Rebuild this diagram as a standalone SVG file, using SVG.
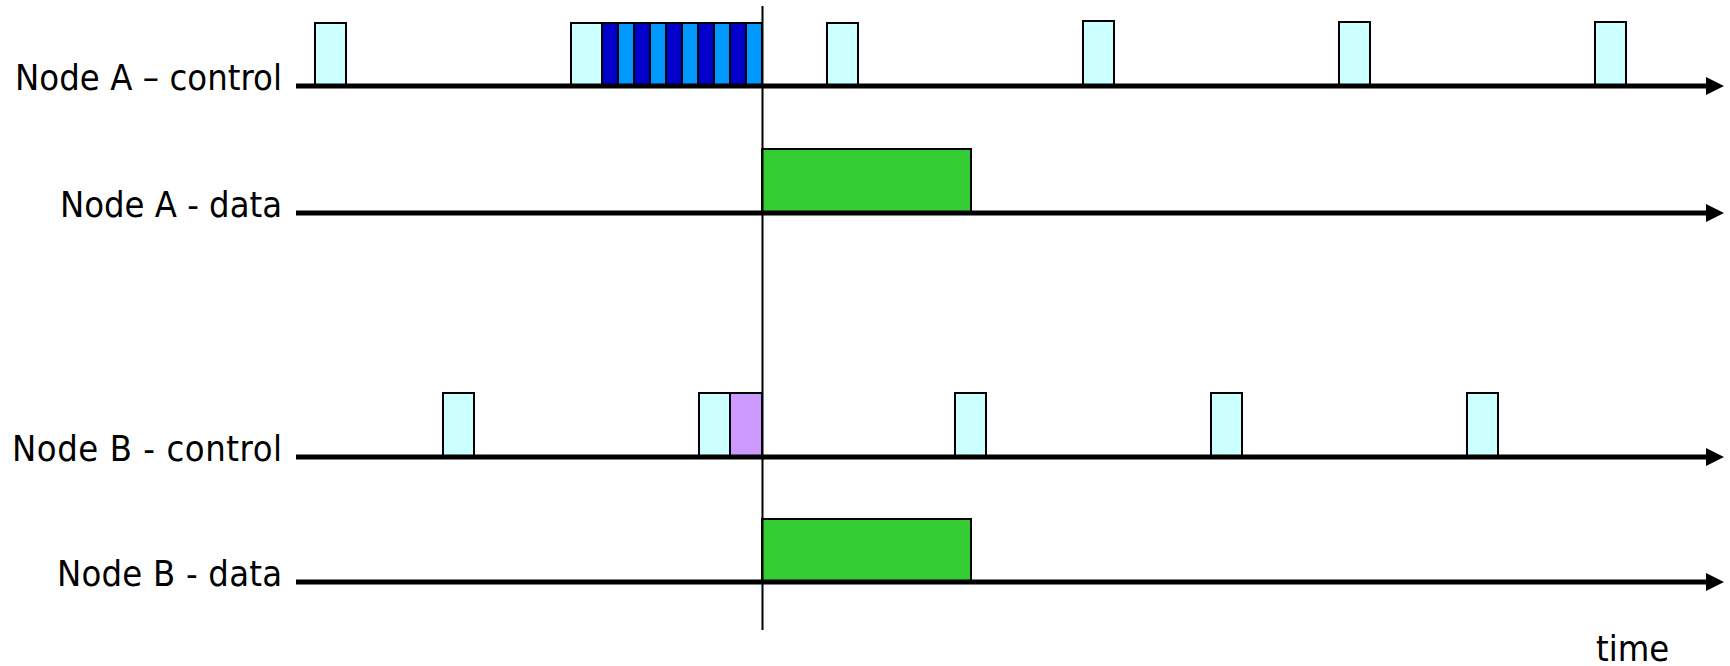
<svg xmlns="http://www.w3.org/2000/svg" width="1730" height="666" viewBox="0 0 1730 666">
<defs>
<style>
.lbl{font-family:"DejaVu Sans Condensed","DejaVu Sans",sans-serif;font-stretch:condensed;font-size:36px;fill:#000}
.box{stroke:#000;stroke-width:2}
.ctl{fill:#CCFFFF}
.dk{fill:#0000CC}
.lt{fill:#0099FF}
.pur{fill:#CC99FF}
.grn{fill:#33CC33}
.axis{stroke:#000;stroke-width:5;fill:none}
</style>
<marker id="ah" markerUnits="userSpaceOnUse" markerWidth="18" markerHeight="18" refX="0" refY="9" orient="auto" viewBox="0 0 18 18">
<path d="M0,0 L18,9 L0,18 Z" fill="#000"/>
</marker>
</defs>
<rect width="1730" height="666" fill="#fff"/>
<g id="labels">
<text class="lbl" x="282" y="90" text-anchor="end" textLength="267" lengthAdjust="spacing">Node A – control</text>
<text class="lbl" x="282" y="217" text-anchor="end" textLength="222" lengthAdjust="spacing">Node A - data</text>
<text class="lbl" x="282" y="461" text-anchor="end" textLength="270" lengthAdjust="spacing">Node B - control</text>
<text class="lbl" x="282" y="586" text-anchor="end" textLength="225" lengthAdjust="spacing">Node B - data</text>
<text class="lbl" x="1596" y="661">time</text>
</g>
<g id="nodeA-control">
<rect class="box ctl" x="315" y="23" width="31" height="63"/>
<rect class="box ctl" x="571" y="23" width="31" height="63"/>
<rect class="box dk" x="602" y="23" width="16" height="63"/>
<rect class="box lt" x="618" y="23" width="16" height="63"/>
<rect class="box dk" x="634" y="23" width="16" height="63"/>
<rect class="box lt" x="650" y="23" width="16" height="63"/>
<rect class="box dk" x="666" y="23" width="16" height="63"/>
<rect class="box lt" x="682" y="23" width="16" height="63"/>
<rect class="box dk" x="698" y="23" width="16" height="63"/>
<rect class="box lt" x="714" y="23" width="16" height="63"/>
<rect class="box dk" x="730" y="23" width="16" height="63"/>
<rect class="box lt" x="746" y="23" width="16" height="63"/>
<rect class="box ctl" x="827" y="23" width="31" height="63"/>
<rect class="box ctl" x="1083" y="21" width="31" height="65"/>
<rect class="box ctl" x="1339" y="22" width="31" height="64"/>
<rect class="box ctl" x="1595" y="22" width="31" height="64"/>
</g>
<g id="nodeA-data">
<rect class="box grn" x="762" y="149" width="209" height="64"/>
</g>
<g id="nodeB-control">
<rect class="box ctl" x="443" y="393" width="31" height="64"/>
<rect class="box ctl" x="699" y="393" width="31" height="64"/>
<rect class="box pur" x="730" y="393" width="32" height="64"/>
<rect class="box ctl" x="955" y="393" width="31" height="64"/>
<rect class="box ctl" x="1211" y="393" width="31" height="64"/>
<rect class="box ctl" x="1467" y="393" width="31" height="64"/>
</g>
<g id="nodeB-data">
<rect class="box grn" x="762" y="519" width="209" height="63"/>
</g>
<g id="connectors">
<line class="axis" x1="296" y1="86" x2="1706" y2="86" marker-end="url(#ah)"/>
<line class="axis" x1="296" y1="213" x2="1706" y2="213" marker-end="url(#ah)"/>
<line class="axis" x1="296" y1="457" x2="1706" y2="457" marker-end="url(#ah)"/>
<line class="axis" x1="296" y1="582" x2="1706" y2="582" marker-end="url(#ah)"/>
<line x1="762.5" y1="6" x2="762.5" y2="630" stroke="#000" stroke-width="2"/>
</g>
</svg>
